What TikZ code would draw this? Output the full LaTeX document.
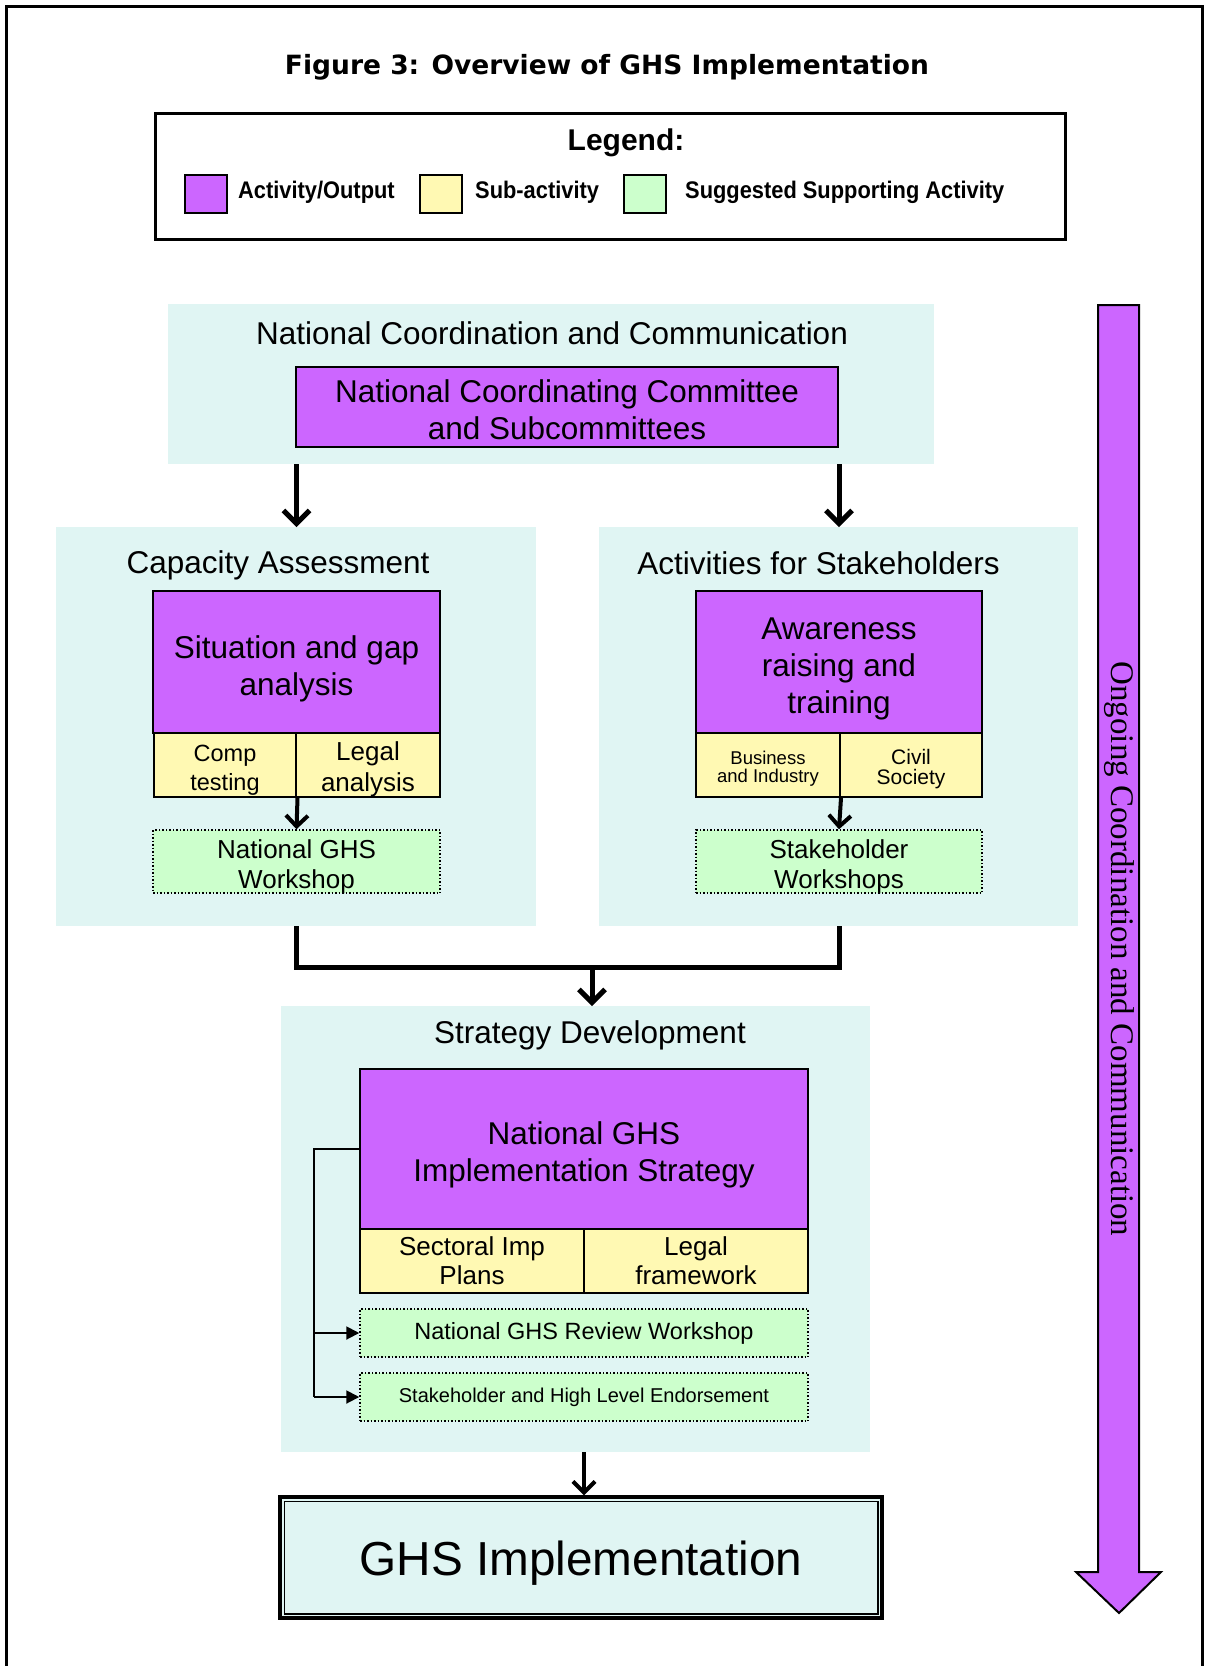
\documentclass[tikz,border=0pt]{standalone}
\usepackage{fontspec}
\setmainfont{Liberation Sans}
\newfontfamily\figtitlefont{DejaVu Sans}
\newfontfamily\ongoingfont{Liberation Serif}
\usetikzlibrary{arrows.meta,calc}
\definecolor{purp}{HTML}{CC66FF}
\definecolor{yel}{HTML}{FFF9B3}
\definecolor{grn}{HTML}{CCFFCC}
\definecolor{cyanbg}{HTML}{E0F5F3}
\newcommand\fsz[2]{\fontsize{#1}{#2}\selectfont}
\begin{document}
\begin{tikzpicture}[x=1pt,y=-1pt,
  panel/.style={fill=cyanbg, inner sep=0pt, outer sep=0pt},
  pbox/.style={draw=black, line width=2pt, fill=purp, inner sep=0pt},
  ybox/.style={draw=black, line width=2pt, fill=yel, inner sep=0pt},
  gbox/.style={draw=black, line width=1.5pt, dotted, fill=grn, inner sep=0pt},
  ptext/.style={inner sep=0pt, align=center, font=\fsz{31.5}{37}},
  ytext/.style={inner sep=0pt, align=center, font=\fsz{26}{30}},
  gtext/.style={inner sep=0pt, align=center, font=\fsz{26}{30}},
  ptitle/.style={inner sep=0pt, font=\fsz{31.5}{36}},
  swatch/.style={draw=black, line width=2.5pt, minimum width=42pt, minimum height=38pt, inner sep=0pt},
  legtext/.style={anchor=west, inner sep=0pt, font=\bfseries\fsz{24}{28}},
  bigarr/.style={line width=5pt, -{Straight Barb[length=13pt,width=26pt]}},
  midarr/.style={line width=4pt, -{Straight Barb[length=11pt,width=22pt]}},
  bigline/.style={line width=5pt},
  thinline/.style={line width=2pt},
  thinarr/.style={line width=2pt, -{Triangle[length=13pt,width=13pt]}}
]
\useasboundingbox (0,0) rectangle (1208,1666);
\fill[white] (0,0) rectangle (1208,1666);
% outer frame
\draw[line width=3pt] (6,1670) -- (6,6) -- (1202,6) -- (1202,1670);

% title
\node[inner sep=0pt, font=\figtitlefont\bfseries\fsz{26.5}{30}] (title) at (607,67) {Figure 3: Overview of GHS Implementation};

% legend
\node[draw=black, line width=3pt, minimum width=910pt, minimum height=126pt, inner sep=0pt] (legend) at (610,176) {};
\node[inner sep=0pt, font=\bfseries\fsz{30}{33}] (legtitle) at (626,143) {Legend:};
\node[swatch, fill=purp] (sw1) at (206,194) {};
\node[legtext] (lt1) at (238,192) {\scalebox{0.91}[1]{Activity/Output}};
\node[swatch, fill=yel] (sw2) at (441,194) {};
\node[legtext] (lt2) at (475,192) {\scalebox{0.91}[1]{Sub-activity}};
\node[swatch, fill=grn] (sw3) at (645,194) {};
\node[legtext] (lt3) at (685,192) {\scalebox{0.91}[1]{Suggested Supporting Activity}};

% panels
\node[panel, minimum width=766pt, minimum height=160pt] (pNCC) at (551,384) {};
\node[panel, minimum width=480pt, minimum height=399pt] (pCap) at (296,726.5) {};
\node[panel, minimum width=479pt, minimum height=399pt] (pAct) at (838.5,726.5) {};
\node[panel, minimum width=589pt, minimum height=446pt] (pStr) at (575.5,1229) {};

% panel titles
\node[ptitle] (tNCC) at (552,333) {National Coordination and Communication};
\node[ptitle] (tCap) at (278,565) {Capacity Assessment};
\node[ptitle] (tAct) at (818.5,563) {Activities for Stakeholders};
\node[ptitle] (tStr) at (590,1035) {Strategy Development};

% NCC
\node[pbox, minimum width=542pt, minimum height=80pt] (ncc) at (567,407) {};
\node[ptext] (nccT) at ($(ncc)+(0,3)$) {National Coordinating Committee\\and Subcommittees};

% Capacity assessment
\node[pbox, minimum width=287pt, minimum height=142pt] (sit) at (296.5,662) {};
\node[ptext] (sitT) at ($(sit)+(0,6.5)$) {Situation and gap\\analysis};
\node[ybox, minimum width=143pt, minimum height=64pt] (comp) at (225,765) {};
\node[ytext, font=\fsz{23.5}{28.5}] (compT) at ($(comp)+(0,5)$) {Comp\\testing};
\node[ybox, minimum width=144pt, minimum height=64pt] (legal) at (368,765) {};
\node[ytext, font=\fsz{26}{31}] (legalT) at ($(legal)+(0,4)$) {Legal\\analysis};
\node[gbox, minimum width=287pt, minimum height=63pt] (ngw) at (296.5,861.5) {};
\node[gtext] (ngwT) at ($(ngw)+(0,4.8)$) {National GHS\\Workshop};

% Activities for stakeholders
\node[pbox, minimum width=286pt, minimum height=142pt] (awa) at (839,662) {};
\node[ptext] (awaT) at ($(awa)+(0,6.5)$) {Awareness\\raising and\\training};
\node[ybox, minimum width=144pt, minimum height=64pt] (bus) at (768,765) {};
\node[ytext, font=\fsz{18.5}{17.5}] (busT) at ($(bus)+(0,3.7)$) {Business\\and Industry};
\node[ybox, minimum width=142pt, minimum height=64pt] (civ) at (911,765) {};
\node[ytext, font=\fsz{21}{20.5}] (civT) at ($(civ)+(0,4)$) {Civil\\Society};
\node[gbox, minimum width=286pt, minimum height=63pt] (skw) at (839,861.5) {};
\node[gtext] (skwT) at ($(skw)+(0,4.8)$) {Stakeholder\\Workshops};

% Strategy development
\node[pbox, minimum width=448pt, minimum height=160pt] (nis) at (584,1149) {};
\node[ptext] (nisT) at ($(nis)+(0,6)$) {National GHS\\Implementation Strategy};
\node[ybox, minimum width=224pt, minimum height=64pt] (sect) at (472,1261) {};
\node[ytext, font=\fsz{26}{29}] (sectT) at (sect) {Sectoral Imp\\Plans};
\node[ybox, minimum width=224pt, minimum height=64pt] (lfw) at (696,1261) {};
\node[ytext, font=\fsz{26}{29}] (lfwT) at (lfw) {Legal\\framework};
\node[gbox, minimum width=448pt, minimum height=48pt] (rev) at (584,1333) {};
\node[gtext, font=\fsz{23.5}{26}] (revT) at (rev) {National GHS Review Workshop};
\node[gbox, minimum width=448pt, minimum height=48pt] (endo) at (584,1397) {};
\node[gtext, font=\fsz{20}{23}] (endoT) at (endo) {Stakeholder and High Level Endorsement};

% GHS implementation
\node[draw=black, line width=3.5pt, fill=cyanbg, minimum width=602pt, minimum height=121pt, inner sep=0pt] (ghs) at (581,1557.5) {};
\draw[line width=1.5pt] ($(ghs.north west)+(6,6)$) rectangle ($(ghs.south east)+(-6,-6)$);
\node[inner sep=0pt, font=\fsz{47.7}{52}] (ghsT) at ($(ghs)+(0,6)$) {GHS Implementation};

% connectors
\draw[bigarr] (pNCC.south -| sit.north) -- (pCap.north -| sit.north);
\draw[bigarr] (pNCC.south -| awa.north) -- (pAct.north -| awa.north);
\draw[midarr] (comp.south east) -- (ngw.north);
\draw[midarr] (bus.south east) -- (skw.north);
\coordinate (m) at (592,967);
\draw[bigline, line cap=butt, line join=miter] (pCap.south -| sit.north) |- (m) -| (pAct.south -| awa.north);
\draw[bigarr] (m) -- (pStr.north -| m);
\coordinate (b) at (314,1149);
\draw[thinline] (nis.west) -- (b) -- (b |- endo.west);
\draw[thinarr] (b |- rev.west) -- (rev.west);
\draw[thinarr] (b |- endo.west) -- (endo.west);
\draw[midarr] (pStr.south -| nis.north) -- (ghs.north -| nis.north);

% ongoing arrow
\draw[line width=2pt, fill=purp, line join=miter] (1098,305) -- (1139,305) -- (1139,1572) -- (1161,1572) -- (1119,1613) -- (1076,1572) -- (1098,1572) -- cycle;
\node[rotate=-90, inner sep=0pt, font=\ongoingfont\fsz{33}{36}] (ongo) at (1119,949) {Ongoing Coordination and Communication};
\end{tikzpicture}
\end{document}
